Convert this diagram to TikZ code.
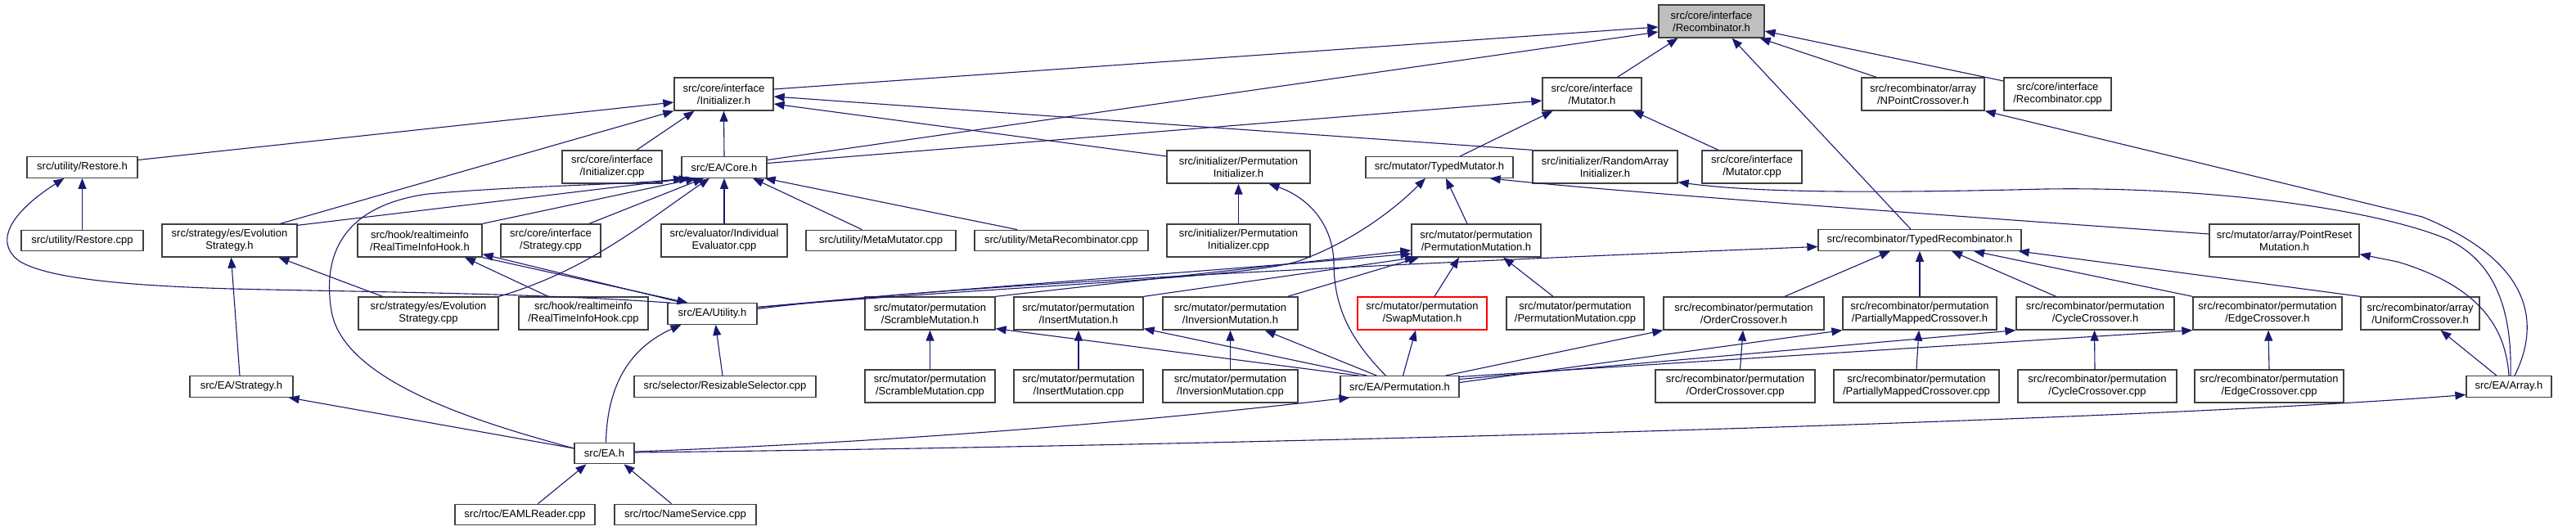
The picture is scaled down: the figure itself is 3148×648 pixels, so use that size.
\documentclass[tikz,border=0pt]{standalone}
\usepackage{fontspec}
\setmainfont{Liberation Sans}
\usetikzlibrary{arrows.meta}
\definecolor{edgeblue}{RGB}{25,25,112}
\definecolor{boxgrey}{RGB}{64,64,64}
\definecolor{rootgrey}{RGB}{191,191,191}
\begin{document}
\begin{tikzpicture}[x=1pt,y=-1pt,
  box/.style={draw=boxgrey, line width=1.3pt, fill=white, inner sep=0pt, align=center, font=\fontsize{13}{15}\selectfont},
  two/.style={minimum height=40pt},
  one/.style={minimum height=25.5pt},
  e/.style={draw=edgeblue, line width=1.1pt, -{Triangle[length=13pt,width=10pt]}}]
\fill[white] (0,0) rectangle (3148,648);
\useasboundingbox (0,0) rectangle (3148,648);
% ---------- nodes ----------
\node[box,two,minimum width=129pt,fill=rootgrey] (R) at (2091.5,26) {src/core/interface\\/Recombinator.h};
\node[box,two,minimum width=121pt] (I) at (884.5,115) {src/core/interface\\/Initializer.h};
\node[box,two,minimum width=121pt] (M) at (1945.5,115) {src/core/interface\\/Mutator.h};
\node[box,two,minimum width=150pt] (NPC) at (2350,115) {src/recombinator/array\\/NPointCrossover.h};
\node[box,two,minimum width=131pt] (RCPP) at (2514.5,115) {src/core/interface\\/Recombinator.cpp};
\node[box,one,minimum width=135pt] (RS) at (100.5,204.5) {src/utility/Restore.h};
\node[box,two,minimum width=122pt] (ICPP) at (748,204) {src/core/interface\\/Initializer.cpp};
\node[box,one,minimum width=104pt] (C) at (885,204.5) {src/EA/Core.h};
\node[box,two,minimum width=175pt] (PI) at (1513.5,204) {src/initializer/Permutation\\Initializer.h};
\node[box,one,minimum width=180pt] (TM) at (1759,204.5) {src/mutator/TypedMutator.h};
\node[box,two,minimum width=177pt] (RAI) at (1961.5,204) {src/initializer/RandomArray\\Initializer.h};
\node[box,two,minimum width=122pt] (MCPP) at (2141,204) {src/core/interface\\/Mutator.cpp};
\node[box,one,minimum width=248pt] (TR) at (2346,293.5) {src/recombinator/TypedRecombinator.h};
\node[box,one,minimum width=149pt] (RSCPP) at (100.5,294) {src/utility/Restore.cpp};
\node[box,two,minimum width=165pt] (ESH) at (280.5,294) {src/strategy/es/Evolution\\Strategy.h};
\node[box,two,minimum width=152pt] (RTH) at (513,294) {src/hook/realtimeinfo\\/RealTimeInfoHook.h};
\node[box,two,minimum width=122pt] (SCPP) at (673,294) {src/core/interface\\/Strategy.cpp};
\node[box,two,minimum width=154pt] (IECPP) at (885,294) {src/evaluator/Individual\\Evaluator.cpp};
\node[box,one,minimum width=183pt] (MMCPP) at (1076.5,294) {src/utility/MetaMutator.cpp};
\node[box,one,minimum width=212pt] (MRCPP) at (1297,294) {src/utility/MetaRecombinator.cpp};
\node[box,two,minimum width=175pt] (PICPP) at (1513.5,294) {src/initializer/Permutation\\Initializer.cpp};
\node[box,two,minimum width=158pt] (PM) at (1804,294) {src/mutator/permutation\\/PermutationMutation.h};
\node[box,two,minimum width=183pt] (PRM) at (2791.5,294) {src/mutator/array/PointReset\\Mutation.h};
\node[box,two,minimum width=171pt] (ESCPP) at (523.5,383) {src/strategy/es/Evolution\\Strategy.cpp};
\node[box,two,minimum width=158pt] (RTCPP) at (713,383) {src/hook/realtimeinfo\\/RealTimeInfoHook.cpp};
\node[box,one,minimum width=109pt] (U) at (870.5,383.5) {src/EA/Utility.h};
\node[box,two,minimum width=159pt] (SMH) at (1136.5,383) {src/mutator/permutation\\/ScrambleMutation.h};
\node[box,two,minimum width=158pt] (IMH) at (1318,383) {src/mutator/permutation\\/InsertMutation.h};
\node[box,two,minimum width=165pt] (IVH) at (1503.5,383) {src/mutator/permutation\\/InversionMutation.h};
\node[box,two,minimum width=158pt,draw=red] (SWH) at (1738,383) {src/mutator/permutation\\/SwapMutation.h};
\node[box,two,minimum width=168pt] (PMCPP) at (1925,383) {src/mutator/permutation\\/PermutationMutation.cpp};
\node[box,two,minimum width=196pt] (OCH) at (2131,383) {src/recombinator/permutation\\/OrderCrossover.h};
\node[box,two,minimum width=188pt] (PMXH) at (2346,383) {src/recombinator/permutation\\/PartiallyMappedCrossover.h};
\node[box,two,minimum width=193pt] (CCH) at (2560.5,383) {src/recombinator/permutation\\/CycleCrossover.h};
\node[box,two,minimum width=182pt] (ECH) at (2771,383) {src/recombinator/permutation\\/EdgeCrossover.h};
\node[box,two,minimum width=145pt] (UCH) at (2957.5,383) {src/recombinator/array\\/UniformCrossover.h};
\node[box,one,minimum width=126pt] (STH) at (295,472.5) {src/EA/Strategy.h};
\node[box,one,minimum width=222pt] (RSCPP2) at (886,472.5) {src/selector/ResizableSelector.cpp};
\node[box,two,minimum width=159pt] (SMCPP) at (1136.5,472) {src/mutator/permutation\\/ScrambleMutation.cpp};
\node[box,two,minimum width=158pt] (IMCPP) at (1318,472) {src/mutator/permutation\\/InsertMutation.cpp};
\node[box,two,minimum width=165pt] (IVCPP) at (1503.5,472) {src/mutator/permutation\\/InversionMutation.cpp};
\node[box,one,minimum width=145pt] (P) at (1710.5,472.5) {src/EA/Permutation.h};
\node[box,two,minimum width=195pt] (OCCPP) at (2120.5,472) {src/recombinator/permutation\\/OrderCrossover.cpp};
\node[box,two,minimum width=202pt] (PMXCPP) at (2342,472) {src/recombinator/permutation\\/PartiallyMappedCrossover.cpp};
\node[box,two,minimum width=194pt] (CCCPP) at (2563,472) {src/recombinator/permutation\\/CycleCrossover.cpp};
\node[box,two,minimum width=182pt] (ECCPP) at (2773,472) {src/recombinator/permutation\\/EdgeCrossover.cpp};
\node[box,one,minimum width=104pt] (AH) at (3066,472.5) {src/EA/Array.h};
\node[box,one,minimum width=73pt] (EAH) at (738.5,554) {src/EA.h};
\node[box,one,minimum width=171pt] (EAML) at (641.5,629) {src/rtoc/EAMLReader.cpp};
\node[box,one,minimum width=173pt] (NS) at (837.5,629) {src/rtoc/NameService.cpp};
% ---------- edges ----------
% into Recombinator.h
\draw[e] ([yshift=6pt]I.east) -- ([yshift=-7pt]R.west);
\draw[e] ([yshift=9pt]C.east) -- ([yshift=-13pt]R.west);
\draw[e] ([xshift=31pt]M.north) -- ([xshift=-41pt]R.south);
\draw[e] ([xshift=-11pt]TR.north) -- ([xshift=25pt]R.south);
\draw[e] ([xshift=-57pt]NPC.north) -- ([xshift=-6pt]R.south east);
\draw[e] ([yshift=16pt]RCPP.west) -- ([yshift=-12pt]R.east);
% into Initializer.h
\draw[e] ([yshift=9pt]RS.east) -- ([yshift=-10pt]I.west);
\draw[e] ([xshift=62pt]ESH.north) -- (I.south west);
\draw[e] ([xshift=30pt]ICPP.north) -- ([xshift=-36pt]I.south);
\draw[e] (C.north) -- (I.south);
\draw[e] ([yshift=13pt]PI.west) -- ([yshift=-12pt]I.east);
\draw[e] (RAI.north west) -- ([yshift=-3pt]I.east);
% into Mutator.h
\draw[e] ([yshift=5pt]C.east) -- ([yshift=-8pt]M.west);
\draw[e] ([xshift=25pt]TM.north) -- ([xshift=-48pt]M.south);
\draw[e] ([xshift=-41pt]MCPP.north) -- ([xshift=50pt]M.south);
% into Restore.h
\draw[e] (RSCPP.north) -- (RS.south);
\draw[e] ([xshift=4pt]U.north west) .. controls (650,358) and (450,357) .. (283,353)
  .. controls (150,349) and (60,340) .. (25,320) .. controls (-5,300) and (5,265) .. ([xshift=-22pt]RS.south);
% into Core.h
\draw[e] ([yshift=-2pt]ESH.north east) -- ([xshift=-42pt]C.south);
\draw[e] (RTH.north east) -- ([xshift=-34pt]C.south);
\draw[e] ([xshift=47pt]SCPP.north) -- ([xshift=-25pt]C.south);
\draw[e] (ESCPP.north east) .. controls (720,330) and (790,270) .. ([xshift=-18pt]C.south);
\draw[e] (IECPP.north) -- (C.south);
\draw[e] ([xshift=-23pt]MMCPP.north) -- ([xshift=35pt]C.south);
\draw[e] ([xshift=-54pt]MRCPP.north) -- ([xshift=-3pt]C.south east);
\draw[e] ([yshift=6pt]EAH.west) .. controls (600,520) and (420,470) .. (405,380)
  .. controls (392,300) and (430,250) .. (523,237) .. controls (650,226) and (770,226) .. ([xshift=-49pt]C.south);
% Utility / RealTimeInfoHook
\draw[e] ([xshift=-36pt]U.north) -- ([yshift=4pt]RTH.south east);
\draw[e] (RTH.south east) -- ([xshift=-30pt]U.north);
\draw[e] ([xshift=-43pt]RTCPP.north) -- ([xshift=55pt]RTH.south);
\draw[e] ([xshift=-56pt]ESCPP.north) -- ([xshift=60pt]ESH.south);
\draw[e] ([xshift=-2pt]STH.north) -- ([xshift=2pt]ESH.south);
\draw[e] ([xshift=2pt]EAH.north) .. controls (742,470) and (770,425) .. ([xshift=-38pt]U.south);
\draw[e] ([xshift=-3pt]RSCPP2.north) -- ([xshift=4pt]U.south);
\draw[e] ([yshift=8pt]U.east) .. controls (1250,348) and (1530,340) .. (1590,318)
  .. controls (1660,292) and (1710,250) .. ([xshift=-17pt]TM.south);
\draw[e] ([yshift=8pt]U.east) .. controls (1200,350) and (1500,330) .. ([yshift=-16pt]PM.west);
\draw[e] ([yshift=6pt]U.east) .. controls (1100,355) and (1500,330) .. ([yshift=-8pt]TR.west);
% into PermutationMutation.h / TypedMutator.h
\draw[e] ([xshift=-11pt]PM.north) -- ([xshift=8pt]TM.south);
\draw[e] (SMH.north east) -- ([yshift=-12pt]PM.west);
\draw[e] (IMH.north east) -- ([xshift=-74pt]PM.south);
\draw[e] ([xshift=-13pt]IVH.north east) -- ([xshift=-70pt]PM.south);
\draw[e] ([xshift=15pt]SWH.north) -- ([xshift=-21pt]PM.south);
\draw[e] ([xshift=-27pt]PMCPP.north) -- ([xshift=33pt]PM.south);
\draw[e] ([yshift=8pt]PRM.west) .. controls (2300,258) and (1950,232) .. ([xshift=-29pt]TM.south east);
% from Permutation.h
\draw[e] ([xshift=-17pt]P.north) .. controls (1645,410) and (1630,370) .. (1630,320)
  .. controls (1628,270) and (1595,240) .. ([xshift=37pt]PI.south);
\draw[e] ([xshift=-50pt]P.north) -- ([yshift=2pt]SMH.south east);
\draw[e] ([xshift=-40pt]P.north) -- ([yshift=2pt]IMH.south east);
\draw[e] ([xshift=-28pt]P.north) -- ([xshift=-41pt]IVH.south east);
\draw[e] ([xshift=4pt]P.north) -- ([xshift=-8pt]SWH.south);
\draw[e] ([xshift=56pt]P.north) -- (OCH.south west);
\draw[e] ([yshift=5pt]P.east) -- (PMXH.south west);
\draw[e] ([yshift=9pt]P.east) -- (CCH.south west);
\draw[e] ([yshift=12pt]P.east) -- (ECH.south west);
% from EA.h
\draw[e] ([yshift=2pt]EAH.east) .. controls (1100,540) and (1400,515) .. ([xshift=12pt]P.south west);
\draw[e] ([yshift=1pt]EAH.east) .. controls (1500,545) and (2600,515) .. ([yshift=-10pt]AH.west);
\draw[e] ([yshift=6pt]EAH.west) -- ([xshift=-6pt]STH.south east);
\draw[e] ([xshift=16pt]EAML.north) -- ([xshift=-22pt]EAH.south);
\draw[e] ([xshift=-17pt]NS.north) -- ([xshift=24pt]EAH.south);
% into TypedRecombinator.h
\draw[e] ([xshift=50pt]OCH.north) -- ([xshift=-36pt]TR.south);
\draw[e] (PMXH.north) -- (TR.south);
\draw[e] ([xshift=-48pt]CCH.north) -- ([xshift=39pt]TR.south);
\draw[e] (ECH.north west) -- ([xshift=66pt]TR.south);
\draw[e] (UCH.north west) -- ([xshift=-4pt]TR.south east);
% cpp -> h
\draw[e] (SMCPP.north) -- (SMH.south);
\draw[e] (IMCPP.north) -- (IMH.south);
\draw[e] (IVCPP.north) -- (IVH.south);
\draw[e] (PICPP.north) -- (PI.south);
\draw[e] ([xshift=6pt]OCCPP.north) -- ([xshift=-1pt]OCH.south);
\draw[e] (PMXCPP.north) -- ([xshift=-1pt]PMXH.south);
\draw[e] ([xshift=-3pt]CCCPP.north) -- ([xshift=-1pt]CCH.south);
\draw[e] (ECCPP.north) -- ([xshift=1pt]ECH.south);
% from Array.h
\draw[e] ([xshift=2pt]AH.north) .. controls (3070,380) and (3050,320) .. (2990,292)
  .. controls (2900,255) and (2700,228) .. (2500,231) .. controls (2300,236) and (2150,236) .. ([yshift=2pt]RAI.south east);
\draw[e] ([xshift=7pt]AH.north) .. controls (3105,395) and (3095,320) .. (2960,265) -- (NPC.south east);
\draw[e] (AH.north) .. controls (3062,400) and (3030,350) .. (2930,320) -- ([yshift=4pt]PRM.south east);
\draw[e] ([xshift=-15pt]AH.north) -- ([xshift=25pt]UCH.south);
\end{tikzpicture}
\end{document}
